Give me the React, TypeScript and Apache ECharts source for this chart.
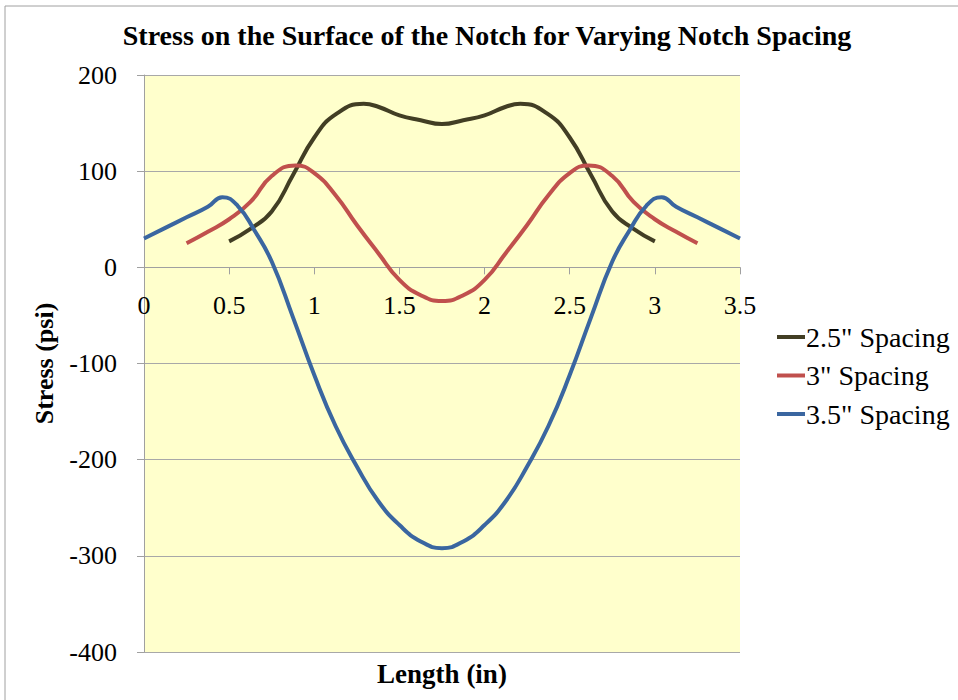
import React, { useEffect, useRef } from "react";
import * as echarts from "echarts";

// 2.5" Spacing
const s25X = [0.5, 0.625, 0.75, 0.875, 1.0, 1.125, 1.29, 1.375, 1.5, 1.625, 1.75, 1.875, 2.0, 2.125, 2.21, 2.375, 2.5, 2.625, 2.75, 2.875, 3.0];
const s25Y = [27, 40, 58, 96, 135, 159, 170, 167, 158, 153, 149, 153, 158, 167, 170, 159, 135, 96, 58, 40, 27];

// 3" Spacing
const s3X = [0.25, 0.375, 0.5, 0.625, 0.75, 0.89, 1.0, 1.125, 1.25, 1.375, 1.5, 1.625, 1.75, 1.875, 2.0, 2.125, 2.25, 2.375, 2.5, 2.61, 2.75, 2.875, 3.0, 3.125, 3.25];
const s3Y = [25, 37, 50, 68, 95, 106, 98, 75, 44, 15, -13, -29, -35, -29, -13, 15, 44, 75, 98, 106, 95, 68, 50, 37, 25];

// 3.5" Spacing
const s35X = [0, 0.125, 0.25, 0.375, 0.46, 0.55, 0.65, 0.75, 0.875, 1.0, 1.125, 1.25, 1.375, 1.5, 1.625, 1.75, 1.875, 2.0, 2.125, 2.25, 2.375, 2.5, 2.625, 2.75, 2.85, 2.95, 3.04, 3.125, 3.25, 3.375, 3.5];
const s35Y = [30, 41, 52, 63, 73, 64, 38, 6, -52, -112, -165, -207, -243, -268, -285, -292, -285, -268, -243, -207, -165, -112, -52, 6, 38, 64, 73, 63, 52, 41, 30];

const seriesNames = ['2.5" Spacing', '3" Spacing', '3.5" Spacing'];
const seriesColors = ["#423E24", "#C0504D", "#3A66A0"];

const titleText = "Stress on the Surface of the Notch for Varying Notch Spacing";
const yTitle = "Stress (psi)";
const xTitle = "Length (in)";

const FONT = "'Liberation Serif', 'Times New Roman', serif";

function zip(xs: number[], ys: number[]) {
  return xs.map((x, i) => [x, ys[i]]);
}

export default function App() {
  const ref = useRef<HTMLDivElement>(null);
  useEffect(() => {
    document.body.style.margin = "0";
    if (!ref.current) return;
    const chart = echarts.init(ref.current, undefined, { renderer: "svg" });
    const data = [zip(s25X, s25Y), zip(s3X, s3Y), zip(s35X, s35Y)];
    const gridTop = 75;
    const gridBottom = 48;
    const plotH = 700 - gridTop - gridBottom;
    const zeroOffset = -(plotH * 400) / 600; // move x axis up to y = 0
    chart.setOption({
      animation: false,
      backgroundColor: "#FFFFFF",
      title: {
        text: titleText,
        left: 482,
        textAlign: "center",
        top: 16,
        textStyle: { fontFamily: FONT, fontSize: 28, fontWeight: "bold", color: "#000" },
      },
      grid: {
        left: 144,
        right: 218,
        top: gridTop,
        bottom: gridBottom,
        show: true,
        backgroundColor: "#FFFFCC",
        borderWidth: 0,
      },
      legend: {
        orient: "vertical",
        left: 772,
        top: 318,
        icon: "rect",
        itemWidth: 28,
        itemHeight: 4,
        itemGap: 10.5,
        data: seriesNames,
        textStyle: { fontFamily: FONT, fontSize: 28, color: "#000", lineHeight: 28, padding: [0, 0, 0, -4] },
      },
      xAxis: {
        type: "value",
        min: 0,
        max: 3.5,
        interval: 0.5,
        offset: zeroOffset,
        axisLine: { show: true, onZero: false, lineStyle: { color: "#A0A0A0", width: 1 } },
        axisTick: { show: true, length: 7, lineStyle: { color: "#A0A0A0" } },
        axisLabel: { fontFamily: FONT, fontSize: 26, color: "#000", margin: 25 },
        splitLine: { show: false },
      },
      yAxis: {
        type: "value",
        min: -400,
        max: 200,
        interval: 100,
        name: yTitle,
        nameLocation: "middle",
        nameGap: 87,
        nameTextStyle: { fontFamily: FONT, fontSize: 26, fontWeight: "bold", color: "#000" },
        axisLine: { show: true, lineStyle: { color: "#A0A0A0", width: 1 } },
        axisTick: { show: true, length: 7, lineStyle: { color: "#A0A0A0" } },
        axisLabel: { fontFamily: FONT, fontSize: 26, color: "#000", margin: 27 },
        splitLine: { show: true, lineStyle: { color: "#A8A8A8", width: 1 } },
      },
      graphic: [
        {
          type: "rect",
          shape: { x: 5, y: 6, width: 960, height: 700 },
          style: { fill: "none", stroke: "#A0A0A0", lineWidth: 1 },
          silent: true,
        },
        {
          type: "text",
          x: 442,
          y: 674,
          style: {
            text: xTitle,
            fontFamily: FONT,
            fontSize: 27,
            fontWeight: "bold",
            fill: "#000",
            align: "center",
            verticalAlign: "middle",
          },
        },
      ],
      series: seriesNames.map((name, i) => ({
        name,
        type: "line",
        data: data[i],
        smooth: 0.5,
        showSymbol: false,
        symbol: "none",
        color: seriesColors[i],
        lineStyle: { color: seriesColors[i], width: 4 },
      })),
    });
    return () => chart.dispose();
  }, []);
  return <div ref={ref} style={{ width: 958, height: 700 }} />;
}
